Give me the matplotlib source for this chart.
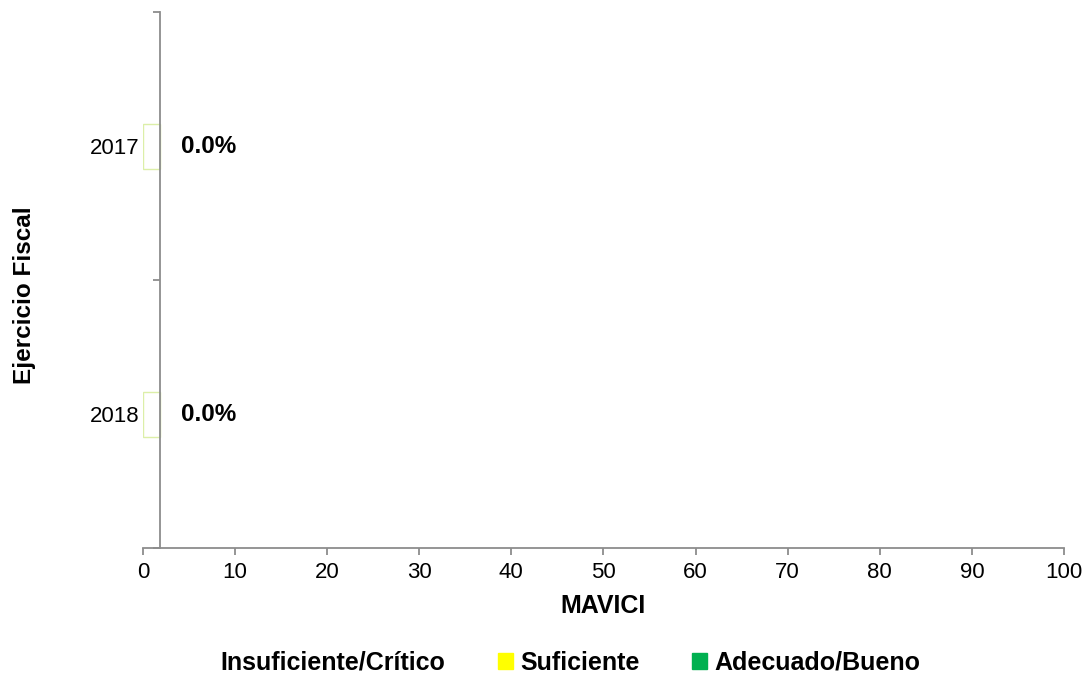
import numpy as np
import matplotlib.pyplot as plt
from matplotlib.patches import Patch

plt.rcParams['font.family'] = ['Liberation Sans', 'DejaVu Sans']

years = ['2017', '2018']
insuficiente = [1.85, 1.85]
suficiente = [0.0, 0.0]
adecuado = [0.0, 0.0]
pct = [0.0, 0.0]

legend_names = ['Insuficiente/Crítico', 'Suficiente', 'Adecuado/Bueno']
legend_colors = ['white', '#ffff00', '#00b050']

fig = plt.figure(figsize=(10.88, 6.77), dpi=100)
ax = fig.add_axes([0.1314, 0.1905, 0.8465, 0.7917])

y = np.arange(len(years))
h = 0.168
ax.barh(y, insuficiente, height=h, color='white', edgecolor='#dcefa8', linewidth=1)
ax.barh(y, suficiente, left=insuficiente, height=h, color='#ffff00')
ax.barh(y, adecuado, left=np.add(insuficiente, suficiente), height=h, color='#00b050')

for yi, p in zip(y, pct):
    ax.text(7.1, yi, f'{p:.1f}%', ha='center', va='center', fontsize=17.5, fontweight='bold')

ax.set_xlim(0, 100)
ax.set_ylim(1.5, -0.5)
ax.set_xticks(np.arange(0, 101, 10))
ax.set_yticks(y)
ax.set_yticklabels(years)
ax.set_yticks([-0.5, 0.5, 1.5], minor=True)

grey = '#8c8c8c'
for s in ['top', 'right']:
    ax.spines[s].set_visible(False)
ax.spines['left'].set_position(('data', 1.85))
ax.spines['left'].set_color(grey)
ax.spines['bottom'].set_color(grey)
ax.spines['left'].set_linewidth(1.3)
ax.spines['bottom'].set_linewidth(1.3)

ax.tick_params(axis='x', length=5, color=grey, width=1.3, labelsize=16, pad=5)
ax.tick_params(axis='y', which='major', length=0, labelsize=16, pad=15)
ax.tick_params(axis='y', which='minor', length=5, color=grey, width=1.3)

ax.set_xlabel('MAVICI', fontsize=18, fontweight='bold', labelpad=8)
ax.set_ylabel('Ejercicio Fiscal', fontsize=17.5, fontweight='bold')
ax.yaxis.set_label_coords(-0.116, 0.472)

handles = [Patch(facecolor=c, edgecolor=c) for c in legend_colors]
fig.legend(handles, legend_names, loc='center', bbox_to_anchor=(0.514, 0.021), ncol=3,
           frameon=False, prop={'weight': 'bold', 'size': 18},
           handlelength=0.6, handleheight=0.6, handletextpad=0.3, columnspacing=2.1,
           borderpad=0, borderaxespad=0)

fig.savefig('out.png', dpi=100)
